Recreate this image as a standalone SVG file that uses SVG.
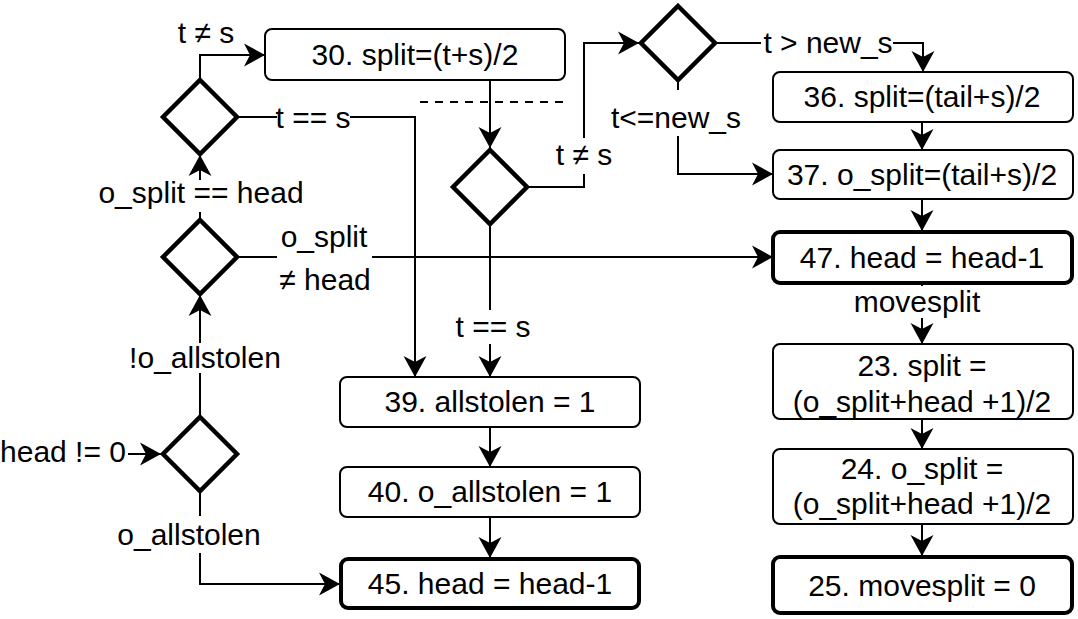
<svg xmlns="http://www.w3.org/2000/svg" width="1078" height="619" viewBox="0 0 1078 619">
<style>
.box{fill:#fff;stroke:#000;stroke-width:2}
.thick{stroke-width:4}
.dia{fill:#fff;stroke:#000;stroke-width:4.5;stroke-linejoin:miter}
.edge{fill:none;stroke:#000;stroke-width:2}
.t{font-family:"Liberation Sans",Arial,sans-serif;font-size:30px;fill:#000;text-anchor:middle}
.bg{fill:#fff}
</style>
<defs>
<marker id="arr" markerUnits="userSpaceOnUse" markerWidth="26" markerHeight="26" viewBox="-23 -13 26 26" refX="0" refY="0" orient="auto" overflow="visible">
<path d="M0,0 L-21,-11.5 L-15,0 L-21,11.5 Z" fill="#000"/>
</marker>
</defs>
<rect x="0" y="0" width="1078" height="619" fill="#fff"/>

<g id="connectors">
<path class="edge" d="M200,78 V55 H265" marker-end="url(#arr)"/>
<path class="edge" d="M239,117 H415 V377" marker-end="url(#arr)"/>
<path class="edge" d="M200,218 V155" marker-end="url(#arr)"/>
<path class="edge" d="M239,257 H773" marker-end="url(#arr)"/>
<path class="edge" d="M200,416 V295" marker-end="url(#arr)"/>
<path class="edge" d="M128,454 H161" marker-end="url(#arr)"/>
<path class="edge" d="M200,492 V584 H340" marker-end="url(#arr)"/>
<path class="edge" d="M490,80 V148" marker-end="url(#arr)"/>
<path class="edge" d="M529,187 H584 V43 H639" marker-end="url(#arr)"/>
<path class="edge" d="M490,226 V377" marker-end="url(#arr)"/>
<path class="edge" d="M717,43 H923 V72" marker-end="url(#arr)"/>
<path class="edge" d="M678,82 V174 H773" marker-end="url(#arr)"/>
<path class="edge" d="M922,122 V150" marker-end="url(#arr)"/>
<path class="edge" d="M922,199 V231" marker-end="url(#arr)"/>
<path class="edge" d="M922,283 V344" marker-end="url(#arr)"/>
<path class="edge" d="M922,419 V449" marker-end="url(#arr)"/>
<path class="edge" d="M922,524 V556" marker-end="url(#arr)"/>
<path class="edge" d="M490,427 V467" marker-end="url(#arr)"/>
<path class="edge" d="M490,517 V558" marker-end="url(#arr)"/>
<path class="edge" d="M420,102 H563" stroke-dasharray="8,7"/>

<g id="labels">
<text class="t" x="206" y="43">t ≠ s</text>
<rect class="bg" x="277" y="105" width="73" height="26"/>
<text class="t" x="313" y="128">t == s</text>
<rect class="bg" x="94" y="180" width="214" height="32"/>
<text class="t" x="201" y="203">o_split == head</text>
<rect class="bg" x="277" y="222" width="95" height="74"/>
<text class="t" x="324" y="247">o_split</text>
<text class="t" x="325" y="290" font-size="27">≠ head</text>
<rect class="bg" x="126" y="343" width="158" height="30"/>
<text class="t" x="205" y="368">!o_allstolen</text>
<text class="t" x="63" y="462">head != 0</text>
<rect class="bg" x="112" y="516" width="154" height="37"/>
<text class="t" x="189" y="545">o_allstolen</text>
<rect class="bg" x="553" y="138" width="62" height="36"/>
<text class="t" x="584" y="165">t ≠ s</text>
<rect class="bg" x="454" y="310" width="78" height="34"/>
<text class="t" x="493" y="337">t == s</text>
<rect class="bg" x="761" y="30" width="132" height="28"/>
<text class="t" x="828" y="53">t &gt; new_s</text>
<rect class="bg" x="606" y="90" width="140" height="46"/>
<text class="t" x="676" y="128">t&lt;=new_s</text>
<rect class="bg" x="849" y="286" width="136" height="32"/>
<text class="t" x="917" y="312">movesplit</text>
</g>
</g>

<g id="d_a"><polygon class="dia" points="200,80 237,117 200,154 163,117"/></g>
<g id="d_b"><polygon class="dia" points="200,220 237,257 200,294 163,257"/></g>
<g id="d_c"><polygon class="dia" points="200,417 237,454 200,491 163,454"/></g>
<g id="d_d"><polygon class="dia" points="490,150 527,187 490,224 453,187"/></g>
<g id="d_e"><polygon class="dia" points="678,6 715,43 678,80 641,43"/></g>

<g id="n30"><rect class="box" x="265" y="29" width="300" height="51" rx="7"/><text class="t" x="415" y="65">30. split=(t+s)/2</text></g>
<g id="n36"><rect class="box" x="773" y="72" width="300" height="50" rx="7"/><text class="t" x="922" y="107">36. split=(tail+s)/2</text></g>
<g id="n37"><rect class="box" x="773" y="150" width="300" height="49" rx="7"/><text class="t" x="922" y="185">37. o_split=(tail+s)/2</text></g>
<g id="n47"><rect class="box thick" x="773" y="232" width="299" height="51" rx="7"/><text class="t" x="922" y="268">47. head = head-1</text></g>
<g id="n23"><rect class="box" x="773" y="344" width="300" height="75" rx="7"/><text class="t" x="922" y="376">23. split =</text><text class="t" x="922" y="412">(o_split+head +1)/2</text></g>
<g id="n24"><rect class="box" x="773" y="449" width="300" height="75" rx="7"/><text class="t" x="922" y="479">24. o_split =</text><text class="t" x="922" y="514">(o_split+head +1)/2</text></g>
<g id="n25"><rect class="box thick" x="773" y="557" width="299" height="56" rx="7"/><text class="t" x="922" y="596">25. movesplit = 0</text></g>
<g id="n39"><rect class="box" x="340" y="377" width="300" height="50" rx="7"/><text class="t" x="490" y="412">39. allstolen = 1</text></g>
<g id="n40"><rect class="box" x="340" y="467" width="300" height="50" rx="7"/><text class="t" x="490" y="502">40. o_allstolen = 1</text></g>
<g id="n45"><rect class="box thick" x="341" y="559" width="298" height="49" rx="7"/><text class="t" x="490" y="594">45. head = head-1</text></g>
</svg>
